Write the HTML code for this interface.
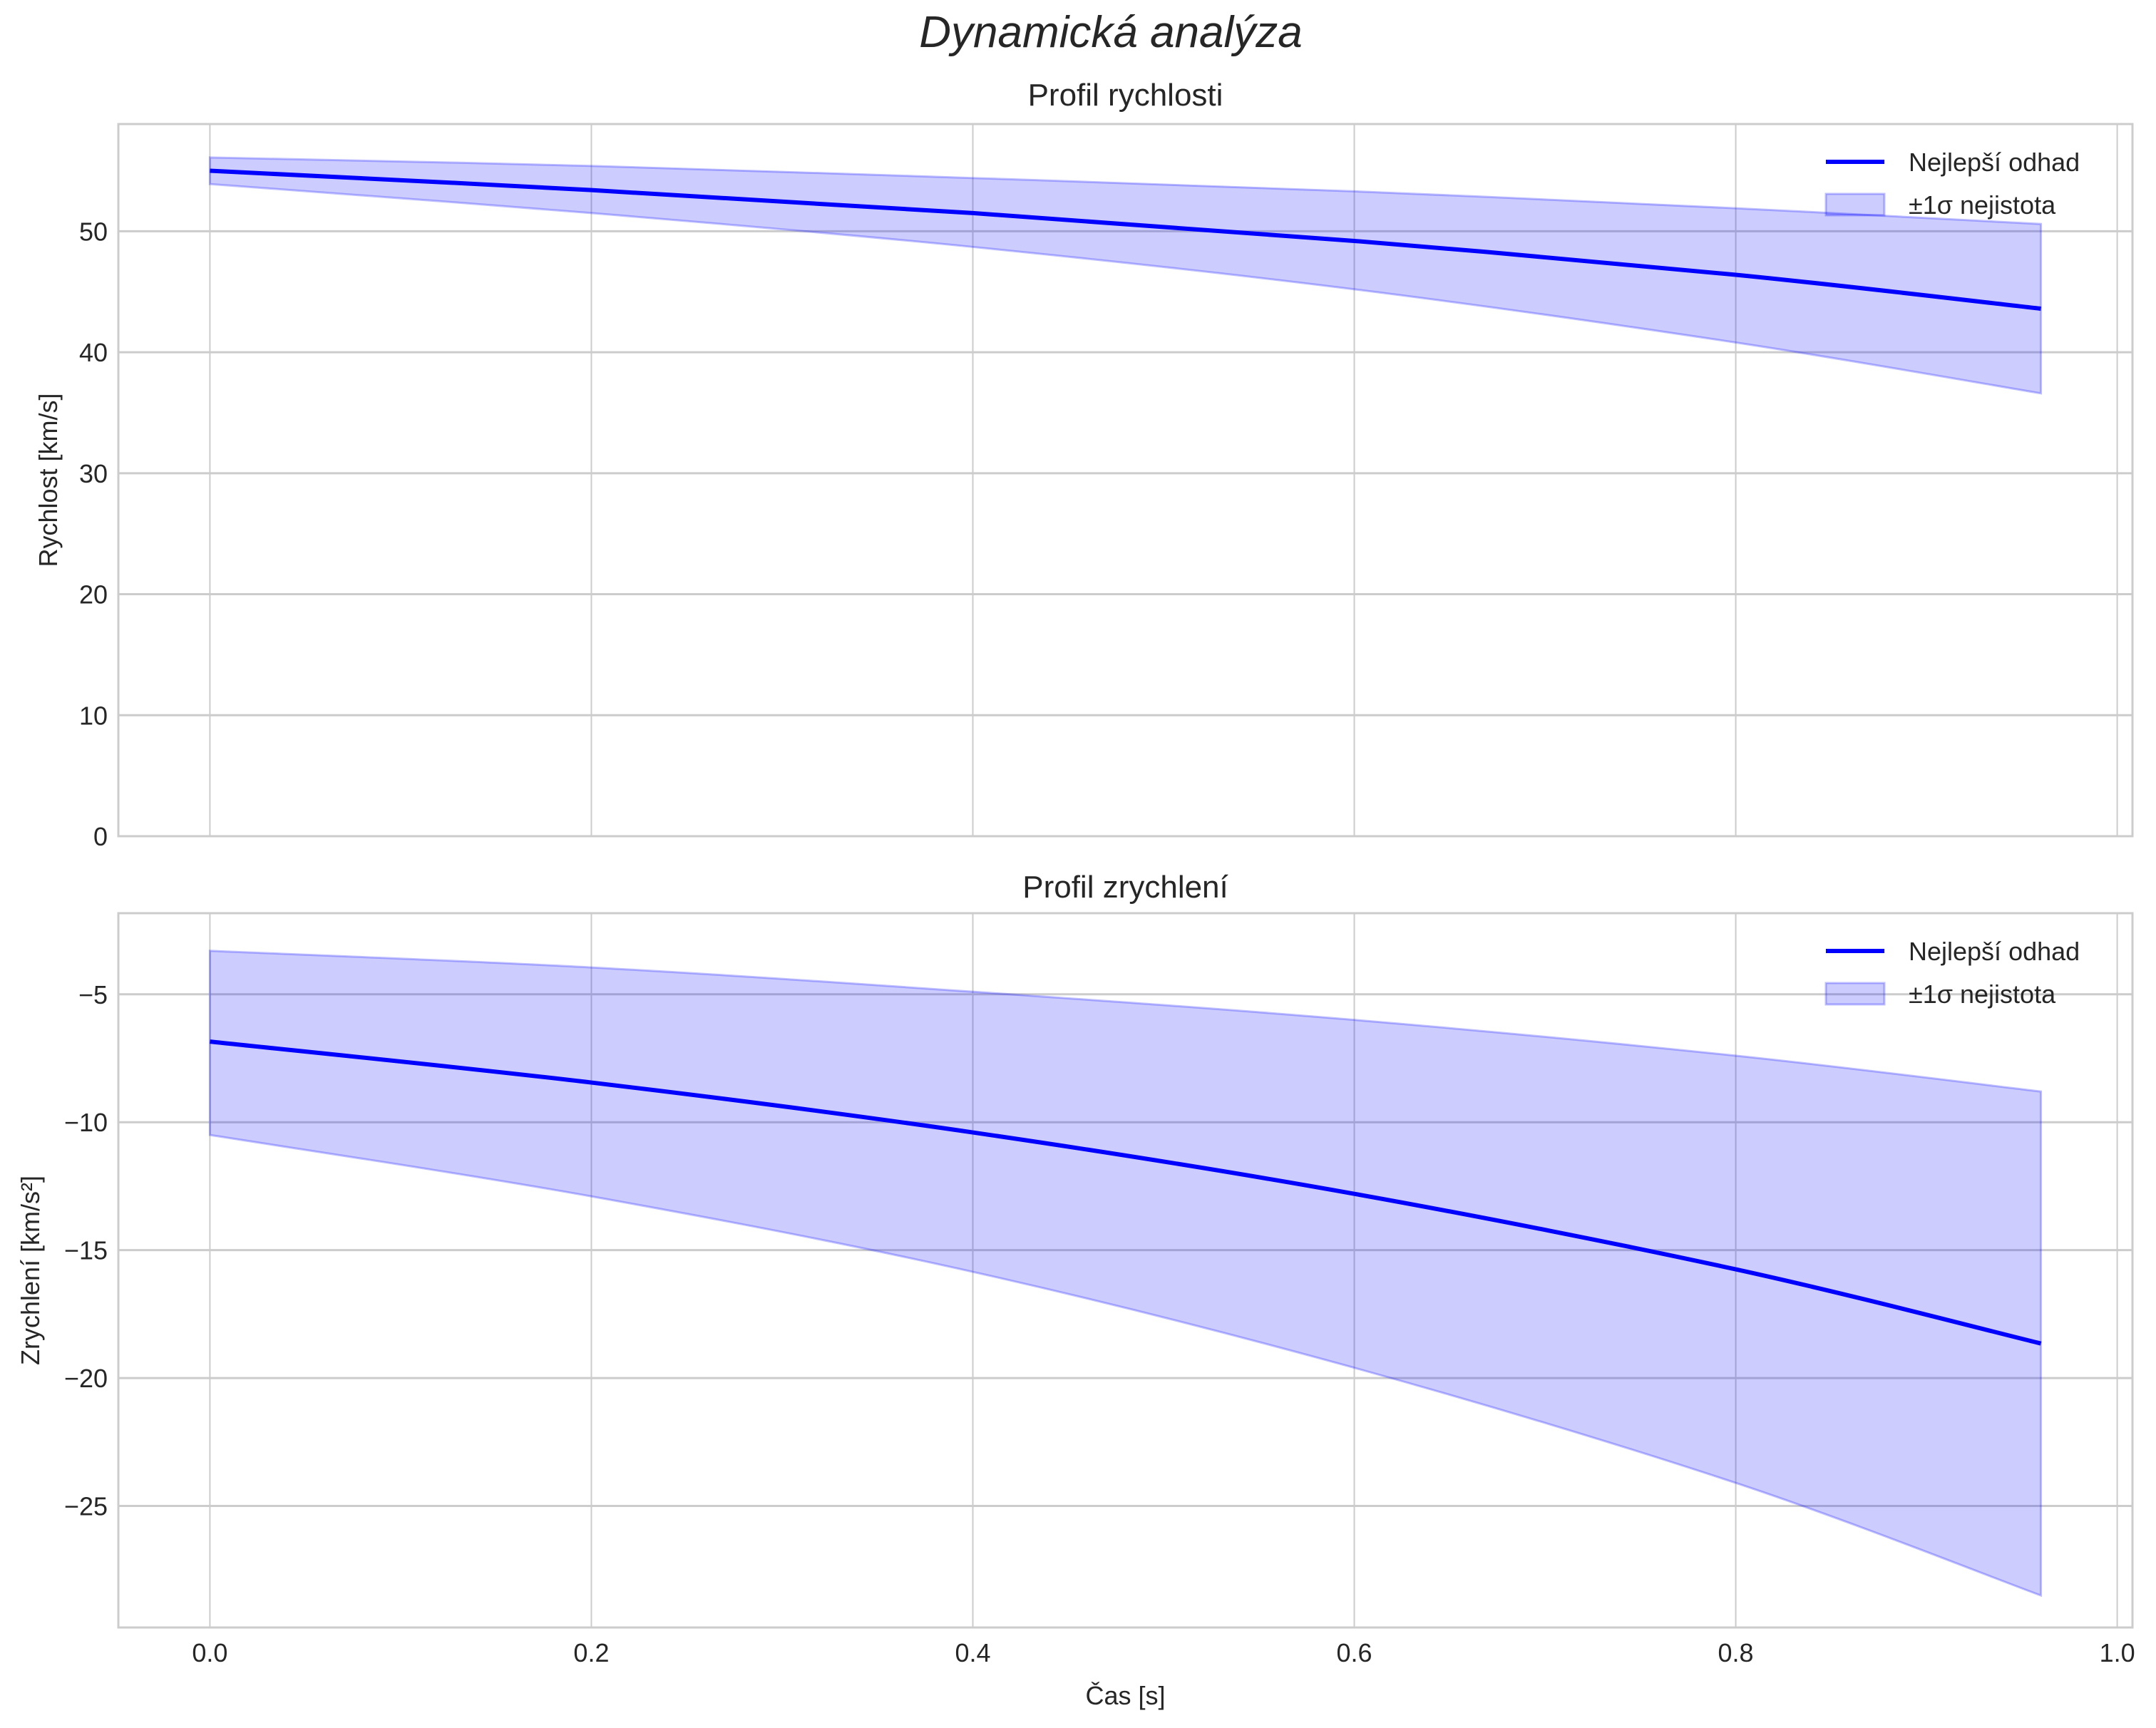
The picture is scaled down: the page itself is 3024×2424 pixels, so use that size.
<!DOCTYPE html>
<html><head><meta charset="utf-8"><style>
html,body{margin:0;padding:0;background:#fff}
svg{display:block;font-family:"Liberation Sans",sans-serif}
</style></head><body>
<svg id="fig" width="3024" height="2424" viewBox="0 0 3024 2424" xmlns="http://www.w3.org/2000/svg">
<text x="1558" y="66" text-anchor="middle" font-size="62" font-style="italic" fill="#262626">Dynamická analýza</text>
</svg>
<script>
const times = [0, 0.2, 0.4, 0.6, 0.8, 0.96];
const velMean = [55.0, 53.4, 51.5, 49.2, 46.4, 43.6];
const velUpper = [56.1, 55.4, 54.4, 53.3, 51.9, 50.6];
const velLower = [53.9, 51.5, 48.7, 45.2, 40.8, 36.6];
const accMean = [-6.85, -8.45, -10.4, -12.8, -15.75, -18.65];
const accUpper = [-3.3, -3.95, -4.9, -6.0, -7.4, -8.8];
const accLower = [-10.5, -12.9, -15.85, -19.6, -24.1, -28.5];
const xTicks = [0.0, 0.2, 0.4, 0.6, 0.8, 1.0];
const xTickLabels = ["0.0", "0.2", "0.4", "0.6", "0.8", "1.0"];
const velTicks = [0, 10, 20, 30, 40, 50];
const accTicks = [-25, -20, -15, -10, -5];
const accTickLabels = ["\u221225", "\u221220", "\u221215", "\u221210", "\u22125"];

const NS = "http://www.w3.org/2000/svg";
const svg = document.getElementById('fig');
const L = 166, R = 2991;
const xMin = -0.048, xMax = 1.008;
const X = v => L + (v - xMin) / (xMax - xMin) * (R - L);
const FS = 36;

function el(tag, attrs, parent) {
  const e = document.createElementNS(NS, tag);
  for (const k in attrs) e.setAttribute(k, attrs[k]);
  (parent || svg).appendChild(e);
  return e;
}
function smooth(pts) {
  let d = `M${pts[0][0]},${pts[0][1]}`;
  for (let i = 0; i < pts.length - 1; i++) {
    const p0 = pts[Math.max(0, i - 1)], p1 = pts[i], p2 = pts[i + 1], p3 = pts[Math.min(pts.length - 1, i + 2)];
    const c1 = [p1[0] + (p2[0] - p0[0]) / 6, p1[1] + (p2[1] - p0[1]) / 6];
    const c2 = [p2[0] - (p3[0] - p1[0]) / 6, p2[1] - (p3[1] - p1[1]) / 6];
    d += ` C${c1[0]},${c1[1]} ${c2[0]},${c2[1]} ${p2[0]},${p2[1]}`;
  }
  return d;
}
function smoothTail(pts) { return smooth(pts).replace(/^M[^ C]+/, ''); }

function panel(cfg) {
  const { top, bot, yMin, yMax, ticks, tickLabels, mean, upper, lower, title, titleY, ylabel, ylabelX, name, showX } = cfg;
  const Y = v => bot - (v - yMin) / (yMax - yMin) * (bot - top);
  const g = el('g', {});
  
  
  xTicks.forEach(t => {
    const ln = el('line', { x1: X(t), x2: X(t), y1: top, y2: bot, stroke: '#cccccc', 'stroke-width': 2 }, g);
    
    
  });
  ticks.forEach((t, i) => {
    const ln = el('line', { x1: L, x2: R, y1: Y(t), y2: Y(t), stroke: '#cccccc', 'stroke-width': 3 }, g);
    
    
    const tx = el('text', { x: 151, y: Y(t) + 13, 'text-anchor': 'end', 'font-size': FS, fill: '#262626' }, g);
    tx.textContent = tickLabels[i];
    
    
  });
  const up = times.map((t, i) => [X(t), Y(upper[i])]);
  const lo = times.map((t, i) => [X(t), Y(lower[i])]).reverse();
  const band = el('path', { d: smooth(up) + ` L${lo[0][0]},${lo[0][1]}` + smoothTail(lo) + ' Z', fill: 'rgba(0,0,255,0.2)', stroke: 'rgba(0,0,255,0.25)', 'stroke-width': 3 }, g);
  
  
  const line = el('path', { d: smooth(times.map((t, i) => [X(t), Y(mean[i])])), fill: 'none', stroke: '#0000ff', 'stroke-width': 6 }, g);
  
  
  const fr = el('rect', { x: L, y: top, width: R - L, height: bot - top, fill: 'none', stroke: '#cccccc', 'stroke-width': 3 }, g);
  
  
  const ti = el('text', { x: (L + R) / 2, y: titleY, 'text-anchor': 'middle', 'font-size': 44, fill: '#262626' }, g);
  ti.textContent = title;
  
  
  const yl = el('text', { x: ylabelX, y: (top + bot) / 2, 'text-anchor': 'middle', 'font-size': FS, fill: '#262626', transform: `rotate(-90 ${ylabelX} ${(top + bot) / 2})` }, g);
  yl.textContent = ylabel;
  
  
  const lgY = top + 53;
  const lg = el('g', {}, g);
  
  
  el('line', { x1: 2561, x2: 2643, y1: lgY, y2: lgY, stroke: '#0000ff', 'stroke-width': 6 }, lg);
  const t1 = el('text', { x: 2677, y: lgY + 13, 'font-size': FS, fill: '#262626' }, lg);
  t1.textContent = 'Nejlepší odhad';
  
  
  el('rect', { x: 2561, y: lgY + 45, width: 82, height: 30, fill: 'rgba(0,0,255,0.2)', stroke: 'rgba(0,0,255,0.25)', 'stroke-width': 3 }, lg);
  const t2 = el('text', { x: 2677, y: lgY + 73, 'font-size': FS, fill: '#262626' }, lg);
  t2.textContent = '±1σ nejistota';
  
  
  if (showX) {
    xTicks.forEach((t, i) => {
      const tx = el('text', { x: X(t), y: bot + 48, 'text-anchor': 'middle', 'font-size': FS, fill: '#262626' }, g);
      tx.textContent = xTickLabels[i];
      
      
    });
    const xl = el('text', { x: (L + R) / 2, y: 2391, 'text-anchor': 'middle', 'font-size': FS, fill: '#262626' }, g);
    xl.textContent = 'Čas [s]';
    
    
  }
}
panel({ top: 174, bot: 1173, yMin: 0, yMax: 58.86, ticks: velTicks, tickLabels: velTicks.map(String), mean: velMean, upper: velUpper, lower: velLower, title: 'Profil rychlosti', titleY: 148, ylabel: 'Rychlost [km/s]', ylabelX: 80, name: 'velocity', showX: false });
panel({ top: 1281, bot: 2283, yMin: -29.75, yMax: -1.83, ticks: accTicks, tickLabels: accTickLabels, mean: accMean, upper: accUpper, lower: accLower, title: 'Profil zrychlení', titleY: 1259, ylabel: 'Zrychlení [km/s²]', ylabelX: 55, name: 'acceleration', showX: true });
</script>
</body></html>
